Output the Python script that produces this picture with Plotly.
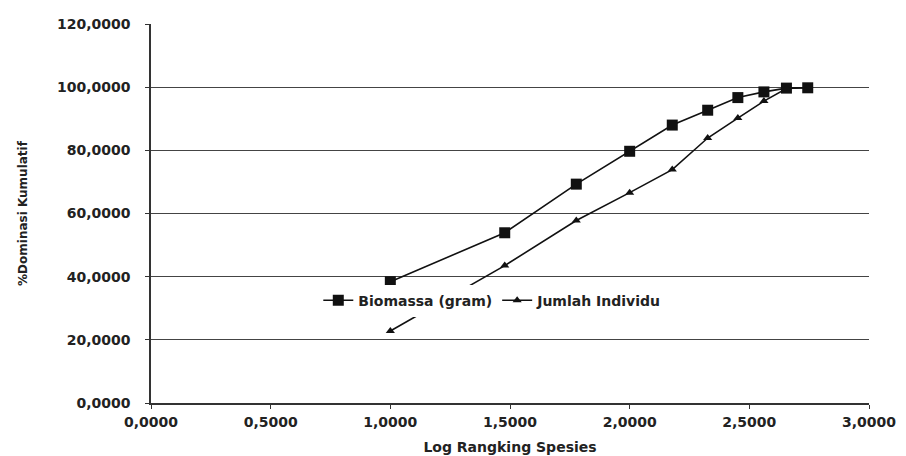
import plotly.graph_objects as go

log_rank = [1.0, 1.478, 1.777, 2.0, 2.178, 2.326, 2.452, 2.561, 2.655, 2.744]
biomassa = [38.4, 53.9, 69.3, 79.7, 88.0, 92.7, 96.7, 98.5, 99.7, 99.8]
jumlah = [22.8, 43.5, 57.8, 66.6, 73.9, 83.9, 90.2, 95.6, 99.6, 99.8]

y_ticks = [0, 20, 40, 60, 80, 100, 120]
x_ticks = [0, 0.5, 1.0, 1.5, 2.0, 2.5, 3.0]
grid_vals = [20, 40, 60, 80, 100]

font_family = "DejaVu Sans, Verdana, sans-serif"
ink = "#222222"

fig = go.Figure()
fig.add_trace(go.Scatter(
    x=log_rank, y=biomassa, mode="lines+markers", name="Biomassa (gram)",
    line=dict(color="#111111", width=1.6),
    marker=dict(symbol="square", size=11, color="#111111"),
))
fig.add_trace(go.Scatter(
    x=log_rank, y=jumlah, mode="lines+markers", name="Jumlah Individu",
    line=dict(color="#111111", width=1.6),
    marker=dict(symbol="triangle-up", size=8, color="#111111"),
))
# invisible trace to activate the grid axis
fig.add_trace(go.Scatter(x=[0], y=[0], yaxis="y2", mode="markers",
                         marker=dict(opacity=0), showlegend=False, hoverinfo="skip"))

fig.update_layout(
    width=906, height=456,
    margin=dict(l=143, r=45, t=16, b=61, autoexpand=False),
    paper_bgcolor="white", plot_bgcolor="white",
    separators=",.",
    font=dict(family=font_family, color=ink),
    showlegend=True,
    legend=dict(
        orientation="h", x=0.233, y=0.27, xanchor="left", yanchor="middle",
        bgcolor="white", font=dict(size=14, weight="bold", color=ink),
        tracegroupgap=0,
    ),
    xaxis=dict(
        range=[0, 3], tickvals=x_ticks, tickformat=".4f", automargin=False,
        showgrid=False, zeroline=False,
        showline=True, linecolor="#333333", linewidth=1.5,
        ticks="outside", ticklen=4, tickcolor="#333333",
        ticklabelstandoff=1,
        tickfont=dict(size=14, weight="bold", color=ink),
        title=dict(text="Log Rangking Spesies", font=dict(size=14, weight="bold", color=ink), standoff=14),
    ),
    yaxis=dict(
        range=[0, 120], tickvals=y_ticks, tickformat=".4f", automargin=False,
        showgrid=False, zeroline=False,
        showline=True, linecolor="#333333", linewidth=1.5,
        ticks="outside", ticklen=4, tickcolor="#333333",
        ticklabelstandoff=12,
        tickfont=dict(size=14, weight="bold", color=ink),
        title=dict(text="%Dominasi Kumulatif", font=dict(size=12, weight="bold", color=ink), standoff=27),
    ),
    yaxis2=dict(
        range=[0, 120], overlaying="y", side="left", tickvals=grid_vals, automargin=False,
        showgrid=True, gridcolor="#444444", gridwidth=1.4,
        showticklabels=False, ticks="", zeroline=False, showline=False,
    ),
)

fig.write_html("out.html")
